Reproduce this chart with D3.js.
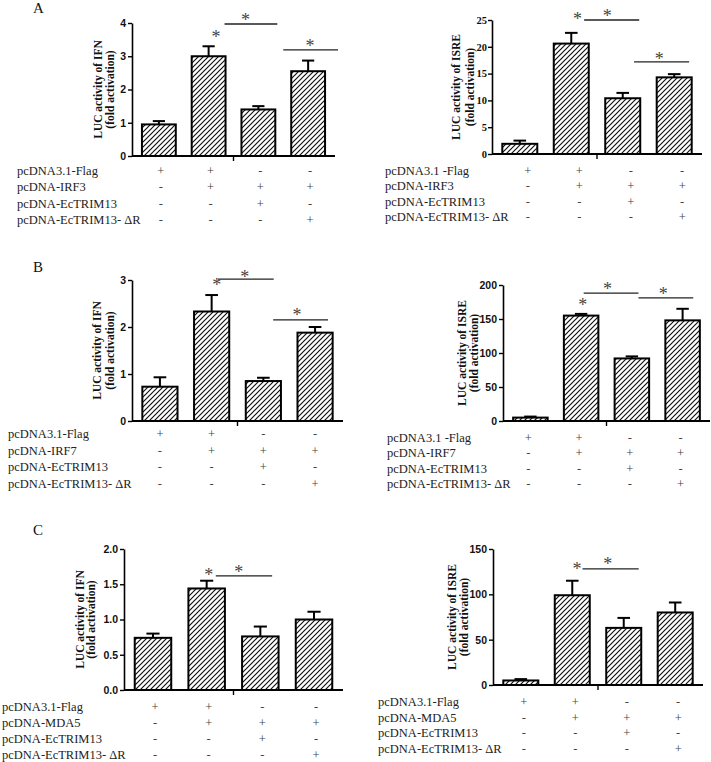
<!DOCTYPE html>
<html>
<head>
<meta charset="utf-8">
<script src="https://cdn.jsdelivr.net/npm/d3@7"></script>
<style>
  body { margin: 0; background: #fff; }
  svg { display: block; }
</style>
</head>
<body>
<div id="chart"></div>
<script>
// row labels and +/- table under every chart
const rowLabelsIrf3 = ['pcDNA3.1-Flag', 'pcDNA-IRF3', 'pcDNA-EcTRIM13', 'pcDNA-EcTRIM13- \u0394R']
const rowLabelsIrf3b = ['pcDNA3.1 -Flag', 'pcDNA-IRF3', 'pcDNA-EcTRIM13', 'pcDNA-EcTRIM13- \u0394R']
const rowLabelsIrf7 = ['pcDNA3.1-Flag', 'pcDNA-IRF7', 'pcDNA-EcTRIM13', 'pcDNA-EcTRIM13- \u0394R']
const rowLabelsIrf7b = ['pcDNA3.1 -Flag', 'pcDNA-IRF7', 'pcDNA-EcTRIM13', 'pcDNA-EcTRIM13- \u0394R']
const rowLabelsMda5 = ['pcDNA3.1-Flag', 'pcDNA-MDA5', 'pcDNA-EcTRIM13', 'pcDNA-EcTRIM13- \u0394R']
const signs = [
  ['+', '+', '-', '-'],
  ['-', '+', '+', '+'],
  ['-', '-', '+', '-'],
  ['-', '-', '-', '+']
]

// A: IRF3
const ifnIrf3 = [0.95, 3.0, 1.4, 2.55]
const ifnIrf3Err = [0.1, 0.3, 0.1, 0.32]
const ifnIrf3Ticks = [0, 1, 2, 3, 4]
const ifnIrf3Lines = [[1.32, 2.38, 3.97], [2.5, 3.6, 3.19]]
const ifnIrf3Stars = [[1.15, 3.64], [1.74, 4.15], [3.04, 3.37]]

const isreIrf3 = [1.9, 20.6, 10.4, 14.3]
const isreIrf3Err = [0.6, 2.0, 1.0, 0.6]
const isreIrf3Ticks = [0, 5, 10, 15, 20, 25]
const isreIrf3Lines = [[1.25, 2.32, 25.0], [2.22, 3.29, 17.2]]
const isreIrf3Stars = [[1.12, 25.5], [1.7, 26.1], [2.71, 18.1]]

// B: IRF7
const ifnIrf7 = [0.73, 2.33, 0.85, 1.88]
const ifnIrf7Err = [0.2, 0.35, 0.07, 0.12]
const ifnIrf7Ticks = [0, 1, 2, 3]
const ifnIrf7Lines = [[1.12, 2.2, 3.02], [2.19, 3.25, 2.15]]
const ifnIrf7Stars = [[1.1, 2.93], [1.64, 3.1], [2.65, 2.3]]

const isreIrf7 = [5, 155, 92, 148]
const isreIrf7Err = [1.5, 2.5, 3, 17]
const isreIrf7Ticks = [0, 50, 100, 150, 200]
const isreIrf7Lines = [[1.05, 2.13, 188], [2.13, 3.21, 181]]
const isreIrf7Stars = [[1.03, 173], [1.52, 197], [2.62, 190]]

// C: MDA5
const ifnMda5 = [0.74, 1.44, 0.76, 1.0]
const ifnMda5Err = [0.06, 0.11, 0.14, 0.11]
const ifnMda5Ticks = [0, 0.5, 1.0, 1.5, 2.0]
const ifnMda5Lines = [[1.17, 2.22, 1.62]]
const ifnMda5Stars = [[1.04, 1.66], [1.6, 1.70]]

const isreMda5 = [5, 99, 63, 80]
const isreMda5Err = [1.5, 16, 11, 11]
const isreMda5Ticks = [0, 50, 100, 150]
const isreMda5Lines = [[1.2, 2.29, 128]]
const isreMda5Stars = [[1.09, 130], [1.69, 136]]

const serif = '"Liberation Serif", "Times New Roman", serif'
const sans = '"Liberation Sans", Arial, sans-serif'

const svg = d3.select('#chart').append('svg')
  .attr('width', 711)
  .attr('height', 762)

svg.append('defs').append('pattern')
  .attr('id', 'hatch')
  .attr('patternUnits', 'userSpaceOnUse')
  .attr('width', 5)
  .attr('height', 5)
  .append('path')
    .attr('d', 'M-1,1 l2,-2 M0,5 l5,-5 M4,6 l2,-2')
    .attr('stroke', '#111')
    .attr('stroke-width', 1.2)

const render = ({values, errors, ticks, lines, stars, rows, title, box, tickFont, fmt}) => {
  const g = svg.append('g')

  const x = d3.scaleBand()
    .domain(d3.range(values.length))
    .range([box.left, box.right])
    .paddingInner(0.32)
    .paddingOuter(0.2)

  const y = d3.scaleLinear()
    .domain([0, d3.max(ticks)])
    .range([box.bottom, box.top])

  const cx = i => x(0) + x.bandwidth() / 2 + i * x.step()

  const yAxis = g.append('g')
    .attr('transform', `translate(${box.left}, 0)`)
    .call(d3.axisLeft(y).tickValues(ticks).tickSize(4).tickSizeOuter(0).tickPadding(tickFont.pad)
      .tickFormat(fmt || d3.format('d')))
  yAxis.select('.domain').attr('stroke-width', 1.6)
  yAxis.selectAll('.tick line').attr('stroke-width', 1.4)
  yAxis.selectAll('.tick text')
    .attr('font-family', tickFont.family)
    .attr('font-size', tickFont.size)
    .attr('font-weight', 'bold')
    .attr('fill', '#111')

  // bars
  g.selectAll('rect.bar').data(values)
    .enter()
    .append('rect')
      .attr('class', 'bar')
      .attr('x', (d, i) => x(i))
      .attr('y', d => y(d))
      .attr('width', x.bandwidth())
      .attr('height', d => y(0) - y(d))
      .attr('fill', 'url(#hatch)')
      .attr('stroke', '#000')
      .attr('stroke-width', 2)

  // upper error bars
  const capW = x.bandwidth() * 0.36
  g.selectAll('line.err').data(values)
    .enter()
    .append('line')
      .attr('x1', (d, i) => cx(i))
      .attr('x2', (d, i) => cx(i))
      .attr('y1', d => y(d))
      .attr('y2', (d, i) => y(d + errors[i]))
      .attr('stroke', '#000')
      .attr('stroke-width', 2)
  g.selectAll('line.cap').data(values)
    .enter()
    .append('line')
      .attr('x1', (d, i) => cx(i) - capW / 2)
      .attr('x2', (d, i) => cx(i) + capW / 2)
      .attr('y1', (d, i) => y(d + errors[i]))
      .attr('y2', (d, i) => y(d + errors[i]))
      .attr('stroke', '#000')
      .attr('stroke-width', 2)

  // x axis with its single middle tick
  g.append('line')
    .attr('x1', box.left).attr('x2', box.right)
    .attr('y1', y(0)).attr('y2', y(0))
    .attr('stroke', '#000').attr('stroke-width', 2)
  const mid = (box.left + box.right) / 2
  g.append('line')
    .attr('x1', mid).attr('x2', mid)
    .attr('y1', y(0)).attr('y2', y(0) + 5)
    .attr('stroke', '#000').attr('stroke-width', 1.4)

  // significance lines and stars
  g.selectAll('line.sig').data(lines)
    .enter()
    .append('line')
      .attr('x1', d => cx(d[0]))
      .attr('x2', d => cx(d[1]))
      .attr('y1', d => y(d[2]))
      .attr('y2', d => y(d[2]))
      .attr('stroke', '#222')
      .attr('stroke-width', 1.3)
  g.selectAll('text.star').data(stars)
    .enter()
    .append('text')
      .attr('x', d => cx(d[0]))
      .attr('y', d => y(d[1]) + 8)
      .attr('text-anchor', 'middle')
      .attr('font-family', serif)
      .attr('font-size', 18)
      .attr('fill', '#444')
      .text('*')

  // y title
  const yMid = (box.top + box.bottom) / 2
  title.forEach((t, k) => {
    g.append('text')
      .attr('transform', `translate(${box.left - box.titleOffset[k]}, ${yMid}) rotate(-90)`)
      .attr('text-anchor', 'middle')
      .attr('font-family', serif)
      .attr('font-weight', 'bold')
      .attr('font-size', 11.5)
      .attr('fill', '#111')
      .text(t)
  })

  // treatment table
  rows.forEach((label, r) => {
    const ty = y(0) + box.rowStart + r * box.rowGap
    g.append('text')
      .attr('x', box.labelX)
      .attr('y', ty)
      .attr('font-family', serif)
      .attr('font-size', 12.5)
      .attr('fill', '#222')
      .text(label)
    g.selectAll(null).data(signs[r])
      .enter()
      .append('text')
        .attr('x', (d, i) => cx(i) + box.signDx)
        .attr('y', ty)
        .attr('text-anchor', 'middle')
        .attr('font-family', serif)
        .attr('font-size', 12.5)
        .attr('fill', '#444')
        .text(d => d)
  })
}

const sansTicks = {family: sans, size: 10.5, pad: 2}

const letters = [['A', 13], ['B', 272], ['C', 535]]
svg.selectAll('text.letter').data(letters)
  .enter()
  .append('text')
    .attr('x', 33)
    .attr('y', d => d[1])
    .attr('font-family', serif)
    .attr('font-size', 15)
    .attr('fill', '#111')
    .text(d => d[0])

render({
  values: ifnIrf3, errors: ifnIrf3Err, ticks: ifnIrf3Ticks, lines: ifnIrf3Lines, stars: ifnIrf3Stars,
  rows: rowLabelsIrf3, title: ['LUC activity of IFN', '(fold activation)'], tickFont: sansTicks,
  box: {left: 132, right: 335, top: 23, bottom: 156, titleOffset: [30, 18], labelX: 17, rowStart: 19, rowGap: 16.3, signDx: 2}
})
render({
  values: isreIrf3, errors: isreIrf3Err, ticks: isreIrf3Ticks, lines: isreIrf3Lines, stars: isreIrf3Stars,
  rows: rowLabelsIrf3b, title: ['LUC activity of ISRE', '(fold activation)'], tickFont: {family: serif, size: 10.5, pad: 1},
  box: {left: 492, right: 702, top: 20, bottom: 154, titleOffset: [32, 18], labelX: 385, rowStart: 21, rowGap: 15.3, signDx: 8}
})
render({
  values: ifnIrf7, errors: ifnIrf7Err, ticks: ifnIrf7Ticks, lines: ifnIrf7Lines, stars: ifnIrf7Stars,
  rows: rowLabelsIrf7, title: ['LUC activity of IFN', '(fold activation)'], tickFont: sansTicks,
  box: {left: 132, right: 343, top: 280, bottom: 421, titleOffset: [31, 18], labelX: 8, rowStart: 17, rowGap: 16.7, signDx: 0}
})
render({
  values: isreIrf7, errors: isreIrf7Err, ticks: isreIrf7Ticks, lines: isreIrf7Lines, stars: isreIrf7Stars,
  rows: rowLabelsIrf7b, title: ['LUC activity of ISRE', '(fold activation)'], tickFont: sansTicks,
  box: {left: 503, right: 710, top: 285, bottom: 421, titleOffset: [37, 25], labelX: 387, rowStart: 21, rowGap: 15.3, signDx: -2}
})
render({
  values: ifnMda5, errors: ifnMda5Err, ticks: ifnMda5Ticks, lines: ifnMda5Lines, stars: ifnMda5Stars,
  rows: rowLabelsMda5, title: ['LUC activity of IFN', '(fold activation)'], tickFont: sansTicks, fmt: d3.format('.1f'),
  box: {left: 124, right: 343, top: 549, bottom: 690, titleOffset: [40, 29], labelX: 2, rowStart: 21, rowGap: 16, signDx: 2}
})
render({
  values: isreMda5, errors: isreMda5Err, ticks: isreMda5Ticks, lines: isreMda5Lines, stars: isreMda5Stars,
  rows: rowLabelsMda5, title: ['LUC activity of ISRE', '(fold activation)'], tickFont: sansTicks,
  box: {left: 493, right: 703, top: 549, bottom: 685, titleOffset: [37, 25], labelX: 378, rowStart: 21, rowGap: 15.7, signDx: 3}
})
</script>
</body>
</html>
